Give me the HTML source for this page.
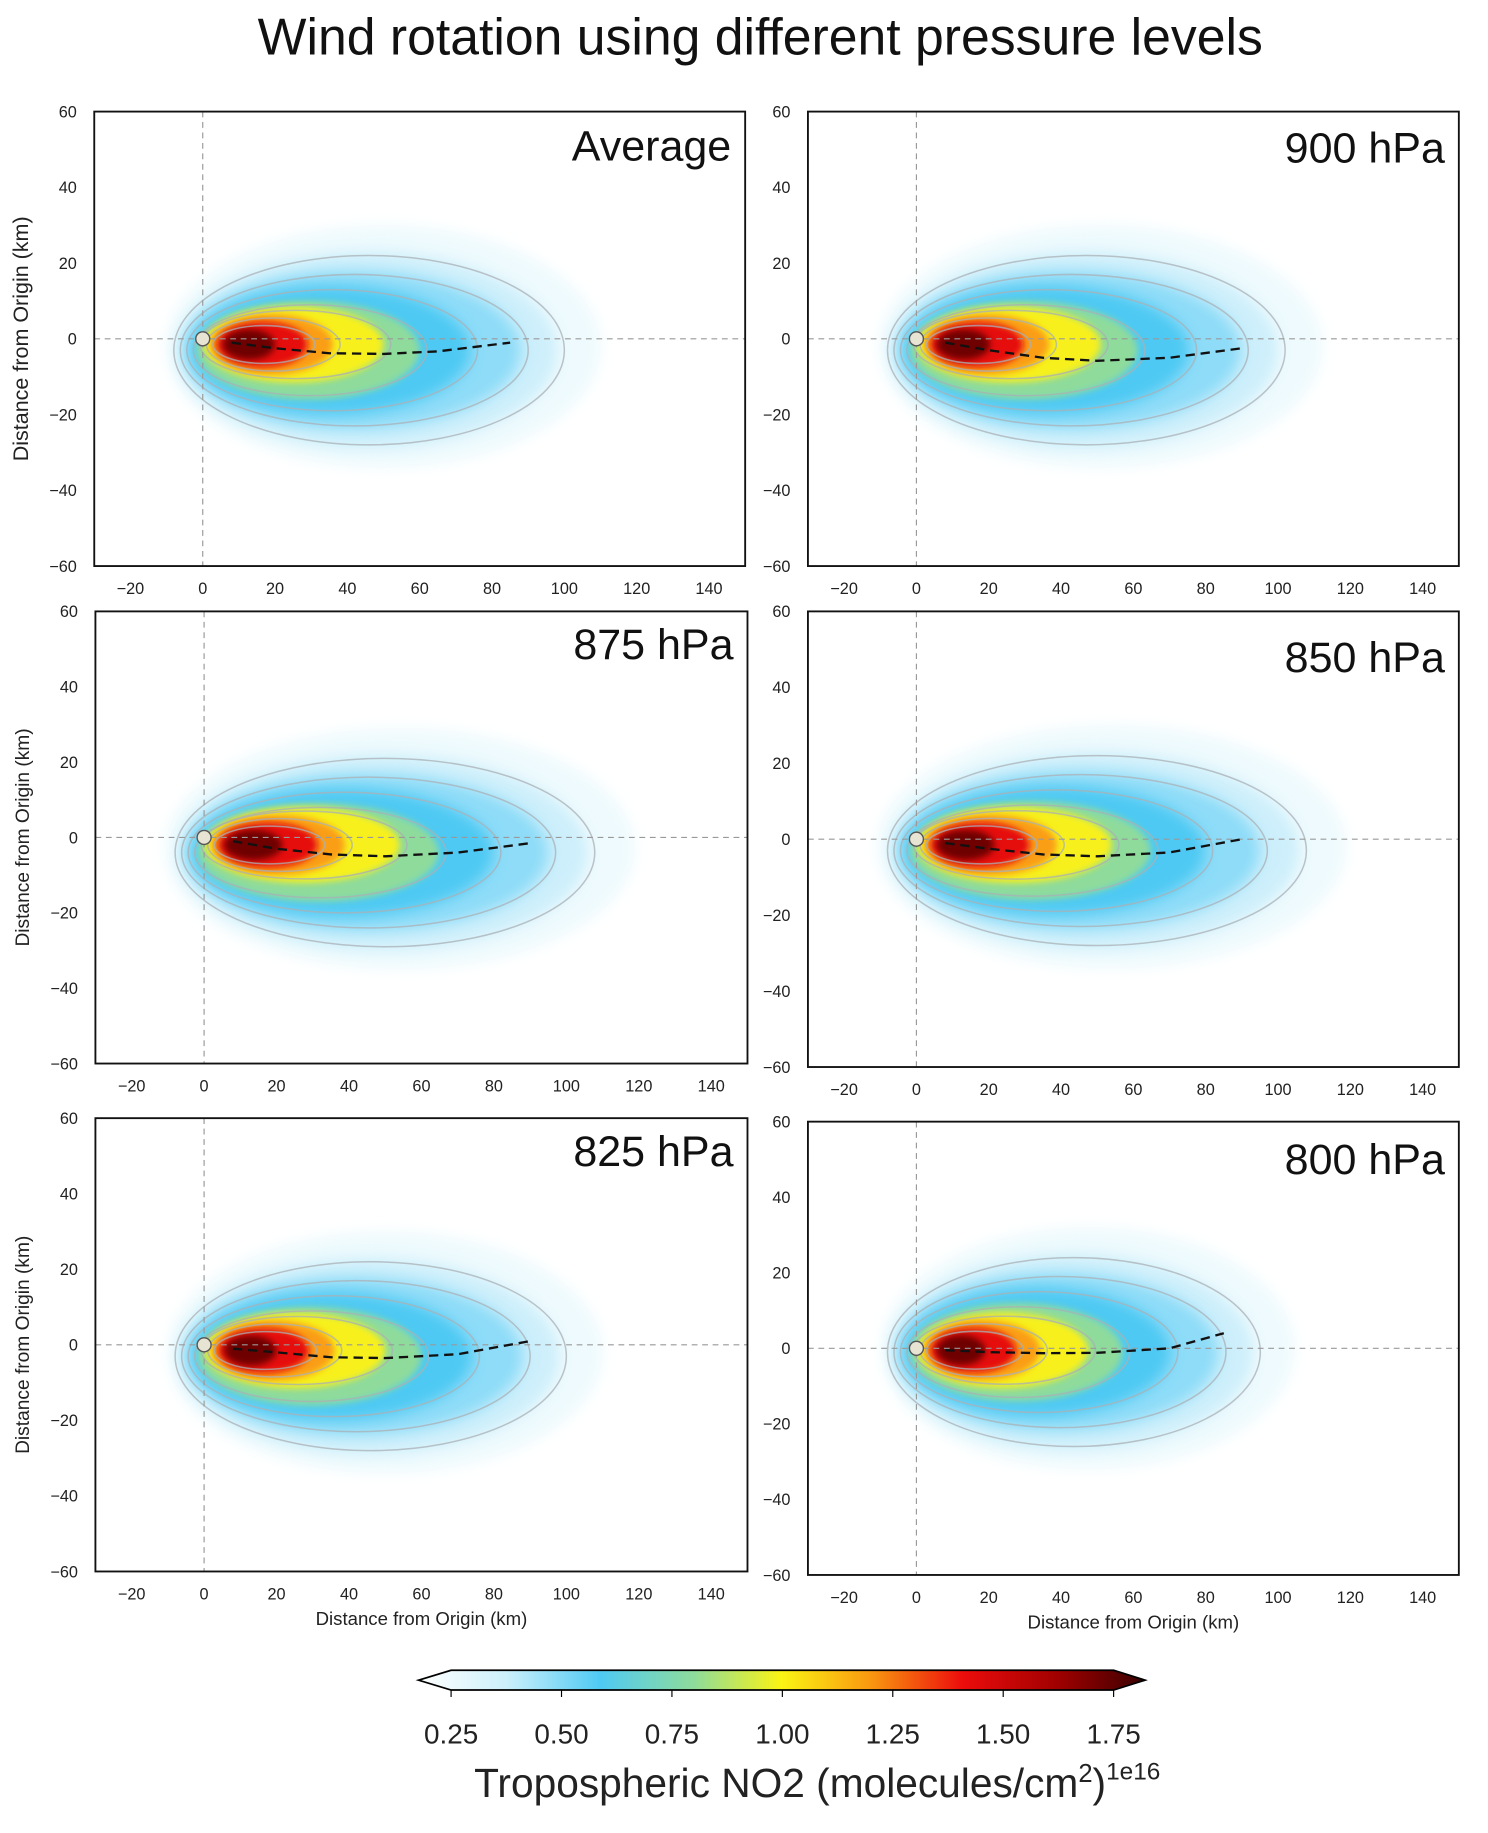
<!DOCTYPE html>
<html><head><meta charset="utf-8"><style>
html,body{margin:0;padding:0;background:#fff}
svg{display:block;font-family:"Liberation Sans",Arial,sans-serif}
</style></head><body>
<svg id="fig" width="1488" height="1833" viewBox="0 0 1280 1577" xmlns="http://www.w3.org/2000/svg">
<defs>
<filter id="blur" x="-50%" y="-50%" width="200%" height="200%"><feGaussianBlur stdDeviation="6"/></filter>
<filter id="blur2" x="-50%" y="-50%" width="200%" height="200%"><feGaussianBlur stdDeviation="3"/></filter>
<linearGradient id="cbg" x1="0" x2="1" y1="0" y2="0">
<stop offset="0" stop-color="#ffffff"/><stop offset="0.12" stop-color="#cdf0fb"/><stop offset="0.25" stop-color="#4fcaf3"/>
<stop offset="0.38" stop-color="#8fdc9a"/><stop offset="0.5" stop-color="#fbf414"/><stop offset="0.62" stop-color="#f99a10"/>
<stop offset="0.75" stop-color="#ec0c0c"/><stop offset="0.88" stop-color="#a00000"/><stop offset="1" stop-color="#3a0000"/>
</linearGradient>
</defs>
<text x="654" y="47" font-size="44.5" text-anchor="middle" fill="#111">Wind rotation using different pressure levels</text>
<g id="panels"></g>
<g>
<polygon points="360,1445.5 388,1437 958,1437 985,1445.5 958,1454 388,1454" fill="url(#cbg)" stroke="#000" stroke-width="1.5"/>
<g id="cbticks"></g>
<text x="703" y="1546" font-size="35" text-anchor="middle" fill="#222">Tropospheric NO2 (molecules/cm<tspan font-size="22" dy="-13">2</tspan><tspan dy="13">)</tspan><tspan font-size="21" dy="-15">1e16</tspan></text>
</g>
</svg>
<script>
const NS="http://www.w3.org/2000/svg";
const panelNames=["Average","900 hPa","875 hPa","850 hPa","825 hPa","800 hPa"];
const xTicks=[-20,0,20,40,60,80,100,120,140];
const yTicks=[60,40,20,0,-20,-40,-60];
const cbTicks=[0.25,0.5,0.75,1.0,1.25,1.5,1.75];
// plume outer extent (km) per panel, y offset (km)
const plumeLength=[100,102,108,108,100,95];
const plumeShift=[-3,-3,-4,-3,-3,-1];
// trajectory (dashed) points per panel: x km and y km
const trajX=[[8,20,35,50,65,85],[8,20,35,50,70,90],[8,20,35,50,70,90],[8,20,35,50,70,90],[8,20,35,50,70,90],[8,20,35,50,70,85]];
const trajY=[[-1,-2.5,-3.8,-4,-3.3,-1],[-1,-3,-5,-5.8,-5,-2.5],[-1,-3,-4.5,-5,-4,-1.5],[-1,-2.5,-4,-4.5,-3.5,0],[-1,-2,-3.3,-3.5,-2.5,1],[-0.5,-1,-1.3,-1.2,0,4]];
// layers: fraction of extent, half-width km, colour
const layerFrac=[0.98,0.88,0.74,0.6,0.5,0.36,0.29,0.2];
const layerHW=[26,21,17,13,10,8,6,4];
const layerCol=["#cdeffb","#8edcf8","#4ec9f3","#8edb9c","#f7f01a","#fa9e12","#e60c0c","#6e0000"];
const boxes=[[81,96,641,487],[695,96,1255,487],[82,526,643,915],[695,526,1255,918],[82,962,643,1352],[695,965,1255,1355]];
const g=document.getElementById('panels');
function el(t,a,p){const e=document.createElementNS(NS,t);for(const k in a)e.setAttribute(k,a[k]);(p||g).appendChild(e);return e;}
boxes.forEach((b,i)=>{
 const [x0,y0,x1,y1]=b;
 const sx=v=>x0+(v+30)/180*(x1-x0);
 const sy=v=>y0+(60-v)/120*(y1-y0);
 const pg=el('g',{});
 
 
 const cid='clip'+i;
 const cp=el('clipPath',{id:cid},pg);el('rect',{x:x0,y:y0,width:x1-x0,height:y1-y0},cp);
 const inner=el('g',{'clip-path':`url(#${cid})`},pg);
 const L=plumeLength[i],sh=plumeShift[i];
 el('ellipse',{cx:sx(L*0.5),cy:sy(sh+1),rx:(sx(L*0.6)-sx(0)),ry:(sy(0)-sy(32)),fill:"#eefafd",filter:"url(#blur)"},inner);
 layerFrac.forEach((f,k)=>{
  const xs=-7+k*1.8, xe=L*f;
  const cx=(xs+xe)/2, rx=(sx(xe)-sx(xs))/2, ry=sy(0)-sy(layerHW[k]);
  const e=el('ellipse',{cx:sx(cx),cy:sy(sh*(k<4?1:0.5)),rx:rx,ry:ry,fill:layerCol[k],filter:k<3?"url(#blur)":"url(#blur2)"},inner);
  
  
 });
 layerFrac.forEach((f,k)=>{
  if(k>6)return;
  const xs=-8+k*1.8, xe=L*f+2;
  el('ellipse',{cx:sx((xs+xe)/2),cy:sy(sh*(k<4?1:0.5)),rx:(sx(xe)-sx(xs))/2,ry:sy(0)-sy(layerHW[k]-1),fill:"none",stroke:"#a9b0b6","stroke-width":1.3,opacity:0.75},inner);
 });
 el('line',{x1:sx(0),x2:sx(0),y1:y0,y2:y1,stroke:"#999","stroke-dasharray":"5,4","stroke-width":1},inner);
 el('line',{x1:x0,x2:x1,y1:sy(0),y2:sy(0),stroke:"#999","stroke-dasharray":"5,4","stroke-width":1},inner);
 let d='';trajX[i].forEach((v,k)=>{d+=(k?' L':'M')+sx(v).toFixed(1)+','+sy(trajY[i][k]).toFixed(1);});
 const tr=el('path',{d:d,fill:"none",stroke:"#111","stroke-width":2,"stroke-dasharray":"8,5"},inner);
 
 
 const o=el('circle',{cx:sx(0),cy:sy(0),r:6,fill:"#e8e4d4",stroke:"#555","stroke-width":1.2},inner);
 
 
 el('rect',{x:x0,y:y0,width:x1-x0,height:y1-y0,fill:"none",stroke:"#111","stroke-width":1.6},pg);
 xTicks.forEach(v=>{const t=el('text',{x:sx(v),y:y1+24,'font-size':14,'text-anchor':'middle',fill:'#222'},pg);t.textContent=v<0?'\u2212'+(-v):v;
  });
 yTicks.forEach(v=>{const t=el('text',{x:x0-15,y:sy(v)+5,'font-size':14,'text-anchor':'end',fill:'#222'},pg);t.textContent=v<0?'\u2212'+(-v):v;
  });
 const lab=el('text',{x:x1-12,y:y0+(i==2||i==4?41:i==0?42:i==1?44:i==3?52:45),'font-size':37,'text-anchor':'end',fill:'#111'},pg);
 lab.textContent=panelNames[i];
 
 if(i%2==0){const yl=el('text',{x:0,y:0,'font-size':i==0?18.5:16.5,'text-anchor':'middle',fill:'#222',transform:`translate(${x0-57},${sy(0)}) rotate(-90)`},pg);
  yl.textContent='Distance from Origin (km)';}
 if(i>=4){const xl=el('text',{x:(x0+x1)/2,y:y1+46,'font-size':16,'text-anchor':'middle',fill:'#222'},pg);
  xl.textContent='Distance from Origin (km)';}
});
const cb=document.getElementById('cbticks');
cbTicks.forEach(v=>{const x=388+(v-0.25)/1.5*570;
 el('line',{x1:x,x2:x,y1:1454,y2:1460,stroke:'#000'},cb);
 const t=el('text',{x:x,y:1500,'font-size':24,'text-anchor':'middle',fill:'#222'},cb);t.textContent=v.toFixed(2);
 });
</script>
</body></html>
